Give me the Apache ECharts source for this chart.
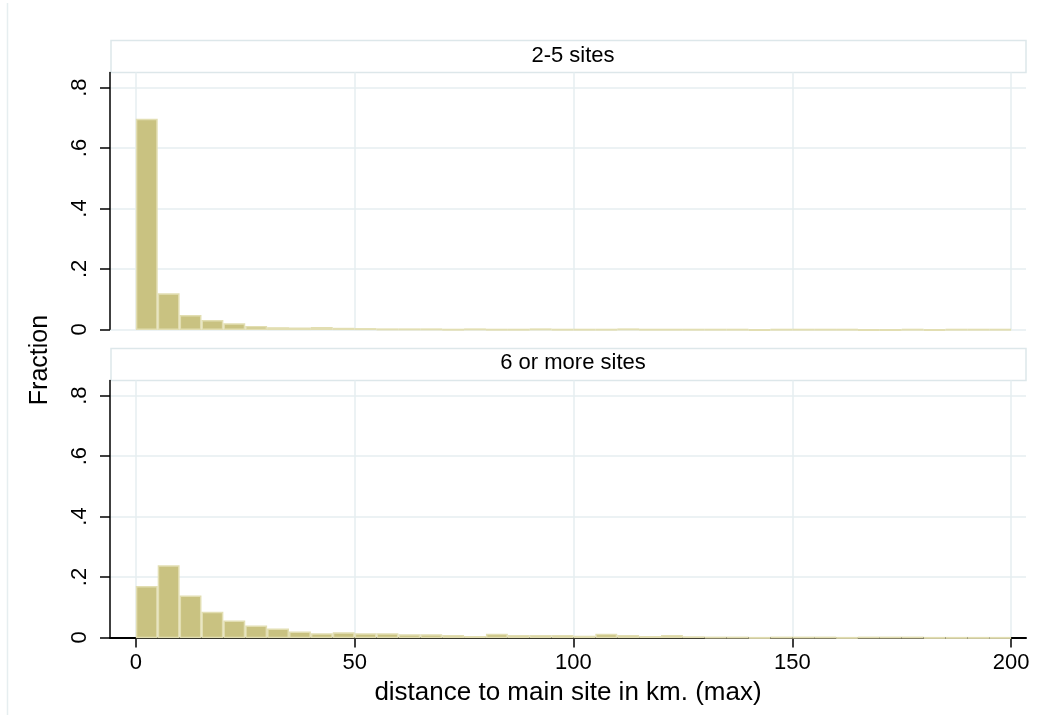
<!DOCTYPE html>
<html>
<head>
<meta charset="utf-8">
<script src="https://cdn.jsdelivr.net/npm/echarts@6/dist/echarts.min.js"></script>
<style>
html,body{margin:0;padding:0;background:#fff;}
#chart{width:1043px;height:715px;}
</style>
</head>
<body>
<div id="chart"></div>
<script>
// ---- data ----
const binWidth = 5;
const binStarts = [0,5,10,15,20,25,30,35,40,45,50,55,60,65,70,75,80,85,90,95,
                   100,105,110,115,120,125,130,135,140,145,150,155,160,165,170,175,180,185,190,195];
const fraction_2to5 = [0.697,0.119,0.047,0.031,0.020,0.011,0.007,0.006,0.008,0.005,
                       0.004,0.003,0.003,0.003,0.002,0.003,0.002,0.002,0.003,0.002,
                       0.002,0.002,0.003,0.002,0.002,0.002,0.002,0.002,0.001,0.002,
                       0.002,0.002,0.002,0.001,0.001,0.002,0.001,0.002,0.002,0.002];
const fraction_6plus = [0.170,0.239,0.139,0.085,0.056,0.040,0.030,0.020,0.014,0.017,
                        0.014,0.014,0.011,0.011,0.008,0.005,0.012,0.008,0.008,0.008,
                        0.006,0.012,0.008,0.005,0.008,0.004,0.003,0.003,0.002,0.003,
                        0.003,0.003,0.002,0.003,0.003,0.003,0.002,0.002,0.002,0.002];
const panelTitles = ['2-5 sites', '6 or more sites'];
const xTicks = [0,50,100,150,200];
const yTicks = [0,0.2,0.4,0.6,0.8];
const xTitle = 'distance to main site in km. (max)';
const yTitle = 'Fraction';

// ---- styling ----
const FONT = 'Liberation Sans, Arial, sans-serif';
const gridColor = '#e6eef1';
const barFill = '#c9c281';
const barStroke = '#e2deb2';

const plotLeft = 110, plotRight = 1043 - 1026;
const grids = [
  {left: plotLeft, right: plotRight, top: 72.5, height: 256.8},
  {left: plotLeft, right: plotRight, top: 380.5, height: 257}
];

function histData(vals){
  return vals.map((v,i)=>[binStarts[i], binStarts[i]+binWidth, v]);
}
function renderBar(params, api){
  const x0 = api.value(0), x1 = api.value(1), y = api.value(2);
  const p0 = api.coord([x0, y]);
  const p1 = api.coord([x1, 0]);
  return {
    type:'rect',
    shape:{x:p0[0]+0.75, y:p0[1]+0.75, width:p1[0]-p0[0]-1.5, height:Math.max(p1[1]-p0[1]-0.75,0.5)},
    style:{fill:barFill, stroke:barStroke, lineWidth:1.5}
  };
}
function yFmt(v){ return v===0 ? '0' : String(+v.toFixed(1)).replace(/^0/,''); }

function xAxis(idx, bottom){
  return {
    type:'value', gridIndex:idx, min:-5.9, max:203.4,
    name: bottom ? xTitle : '',
    nameLocation:'middle', nameGap:42,
    nameTextStyle:{fontFamily:FONT, fontSize:26, color:'#000'},
    axisLine:{show:bottom, onZero:false, lineStyle:{color:'#000', width:2}},
    axisTick:{show:bottom, length:10, customValues:xTicks, lineStyle:{color:'#000', width:1.5}},
    axisLabel:{show:bottom, customValues:xTicks, margin:14, fontFamily:FONT, fontSize:22, color:'#000'},
    splitLine:{show:true, lineStyle:{color:gridColor, width:1.5}}
  };
}
function yAxis(idx){
  return {
    type:'value', gridIndex:idx, min:0, max:0.85,
    axisLine:{show:true, onZero:false, lineStyle:{color:'#000', width:1.5}},
    axisTick:{show:true, length:10, customValues:yTicks, lineStyle:{color:'#000', width:1.5}},
    axisLabel:{customValues:yTicks, rotate:90, margin:19, fontFamily:FONT, fontSize:22, color:'#000', formatter:yFmt},
    splitLine:{show:true, lineStyle:{color:gridColor, width:1.5}}
  };
}

const chart = echarts.init(document.getElementById('chart'), null, {renderer:'canvas'});
const stripCenter = plotLeft + (1043 - plotLeft - plotRight)/2;
chart.setOption({
  backgroundColor:'#fff',
  animation:false,
  title: panelTitles.map((t,i)=>({
    text:t, left:stripCenter, top: i===0 ? 40 : 347, textAlign:'center',
    textStyle:{fontFamily:FONT, fontSize:22, fontWeight:'normal', color:'#000'}
  })),
  grid: grids,
  xAxis: [xAxis(0,false), xAxis(1,true)],
  yAxis: [yAxis(0), yAxis(1)],
  graphic: [
    {type:'line', shape:{x1:7.5,y1:3,x2:7.5,y2:715}, style:{stroke:'#e6eef0', lineWidth:1.5}, z:-1},
    {type:'rect', shape:{x:111,y:40.5,width:915,height:32}, style:{fill:'#fff', stroke:'#dde7ea', lineWidth:1.5}, z:-1},
    {type:'rect', shape:{x:111,y:348.5,width:915,height:32}, style:{fill:'#fff', stroke:'#dde7ea', lineWidth:1.5}, z:-1},
    {type:'text', x:40.5, y:360, rotation:Math.PI/2,
     style:{text:yTitle, fontFamily:FONT, fontSize:25, fill:'#000', textAlign:'center', textVerticalAlign:'middle'}}
  ],
  series: [
    {type:'custom', xAxisIndex:0, yAxisIndex:0, renderItem:renderBar, data:histData(fraction_2to5), encode:{x:[0,1], y:2}},
    {type:'custom', xAxisIndex:1, yAxisIndex:1, renderItem:renderBar, data:histData(fraction_6plus), encode:{x:[0,1], y:2}}
  ]
});
</script>
</body>
</html>
